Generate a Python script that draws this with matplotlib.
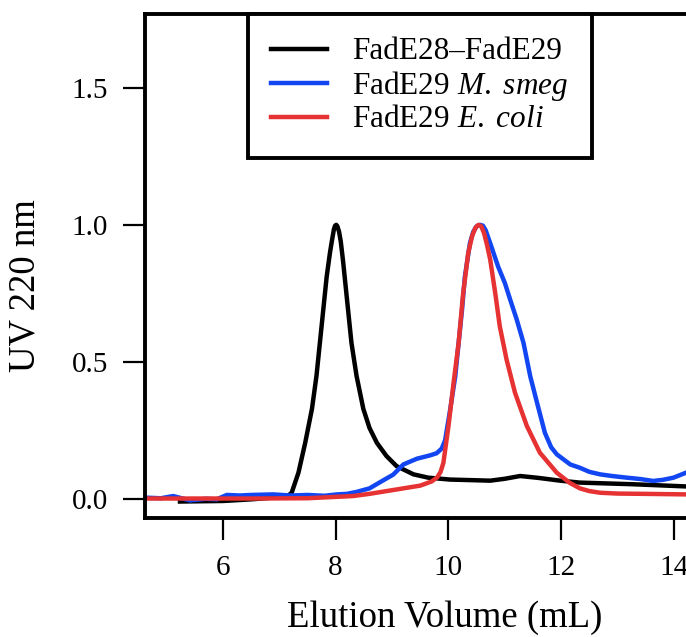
import numpy as np
import matplotlib
matplotlib.use("Agg")
import matplotlib.pyplot as plt
from matplotlib.ticker import FormatStrFormatter

plt.rcParams['font.family'] = ['Liberation Serif', 'DejaVu Serif']
plt.rcParams['mathtext.fontset'] = 'custom'
plt.rcParams['mathtext.rm'] = 'Liberation Serif'
plt.rcParams['mathtext.it'] = 'Liberation Serif:italic'

# FadE28-FadE29 complex
black_x = [5.24, 5.6, 6.0, 6.5, 7.0, 7.15, 7.22, 7.34, 7.46, 7.58, 7.66, 7.72, 7.78,
           7.84, 7.9, 7.94, 7.97, 7.99, 8.01, 8.03, 8.06, 8.09, 8.13, 8.17, 8.22,
           8.28, 8.37, 8.49, 8.6, 8.73, 8.9, 9.08, 9.38, 9.64, 10.03, 10.4, 10.74,
           11.0, 11.27, 11.6, 11.98, 12.33, 13.27, 14.21]
black_y = [-0.008, -0.007, -0.006, 0.0, 0.008, 0.012, 0.024, 0.097, 0.206, 0.33,
           0.45, 0.57, 0.69, 0.81, 0.9, 0.95, 0.985, 0.997, 1.0, 0.995, 0.975,
           0.94, 0.87, 0.79, 0.69, 0.57, 0.45, 0.33, 0.26, 0.206, 0.158, 0.121,
           0.091, 0.079, 0.072, 0.07, 0.068, 0.075, 0.085, 0.078, 0.068, 0.061,
           0.055, 0.047]

# FadE29 M. smeg
blue_x = [4.65, 4.9, 5.12, 5.42, 5.7, 5.89, 6.07, 6.3, 6.5, 6.89, 7.2, 7.5, 7.8,
          8.02, 8.2, 8.37, 8.6, 8.85, 9.02, 9.2, 9.44, 9.67, 9.79, 9.88, 9.94,
          10.03, 10.12, 10.18, 10.24, 10.29, 10.38, 10.44, 10.5, 10.56, 10.61,
          10.66, 10.74, 10.88, 11.0, 11.09, 11.21, 11.33, 11.45, 11.57, 11.71,
          11.82, 11.92, 12.16, 12.33, 12.5, 12.69, 12.9, 13.16, 13.4, 13.63, 13.8,
          13.99, 14.21]
blue_y = [0.006, 0.004, 0.012, -0.004, 0.002, 0.0, 0.016, 0.014, 0.016, 0.018,
          0.014, 0.016, 0.013, 0.018, 0.02, 0.027, 0.04, 0.07, 0.09, 0.127,
          0.148, 0.16, 0.168, 0.185, 0.215, 0.327, 0.448, 0.57, 0.69, 0.81,
          0.933, 0.975, 0.995, 1.0, 0.997, 0.98, 0.933, 0.848, 0.788, 0.73,
          0.655, 0.57, 0.448, 0.352, 0.242, 0.19, 0.164, 0.127, 0.115, 0.1,
          0.091, 0.085, 0.079, 0.074, 0.067, 0.071, 0.079, 0.097]

# FadE29 E. coli
red_x = [4.65, 5.5, 6.5, 7.5, 8.31, 8.6, 8.9, 9.2, 9.5, 9.7, 9.8, 9.86, 9.91,
         10.0, 10.09, 10.18, 10.26, 10.35, 10.42, 10.48, 10.53, 10.58, 10.63,
         10.68, 10.74, 10.83, 10.91, 11.03, 11.18, 11.39, 11.62, 11.92, 12.15,
         12.33, 12.5, 12.69, 13.0, 13.46, 14.21]
red_y = [0.003, 0.003, 0.003, 0.004, 0.012, 0.02, 0.03, 0.04, 0.05, 0.065, 0.08,
         0.1, 0.133, 0.267, 0.424, 0.57, 0.75, 0.897, 0.96, 0.99, 1.0, 0.995,
         0.97, 0.93, 0.873, 0.75, 0.63, 0.509, 0.388, 0.267, 0.17, 0.097, 0.06,
         0.04, 0.03, 0.024, 0.021, 0.02, 0.018]

labels = ['FadE28\u2013FadE29', r'FadE29 $\mathit{M.\ smeg}$', r'FadE29 $\mathit{E.\ coli}$']
colors = ['black', '#1246f2', '#e63232']

fig = plt.figure(figsize=(6.86, 6.37), dpi=100)
ax = fig.add_axes([0.2114, 0.1868, 0.8436, 0.7912])

lw = 3.2
ax.plot(black_x, black_y, color=colors[0], lw=lw, label=labels[0])
ax.plot(blue_x, blue_y, color=colors[1], lw=lw, label=labels[1])
ax.plot(red_x, red_y, color=colors[2], lw=lw, label=labels[2])

ax.set_xlim(4.62, 14.88)
ax.set_ylim(-0.068, 1.768)
ax.set_xticks([6, 8, 10, 12, 14])
ax.set_yticks([0.0, 0.5, 1.0, 1.5])
ax.yaxis.set_major_formatter(FormatStrFormatter('%.1f'))

for s in ax.spines.values():
    s.set_linewidth(2.8)
ax.tick_params(direction='out', length=15.5, width=1.6, labelsize=21, pad=11)

ax.set_xlabel('Elution Volume (mL)', fontsize=26.5)
ax.set_ylabel('UV 220 nm', fontsize=26.5)
ax.xaxis.set_label_coords(0.518, -0.198)
ax.yaxis.set_label_coords(-0.207, 0.462)
ax.xaxis.label.set_va('center')
ax.yaxis.label.set_va('center')

leg = ax.legend(loc='upper center', bbox_to_anchor=(0.475, 1.0), borderaxespad=0,
                fontsize=22.5, frameon=True, fancybox=False, handlelength=1.8,
                handletextpad=0.8, labelspacing=0.08, borderpad=0.75)
leg.get_frame().set_edgecolor('black')
leg.get_frame().set_linewidth(2.8)
leg.get_frame().set_alpha(1)

fig.savefig('out.png', dpi=100)
